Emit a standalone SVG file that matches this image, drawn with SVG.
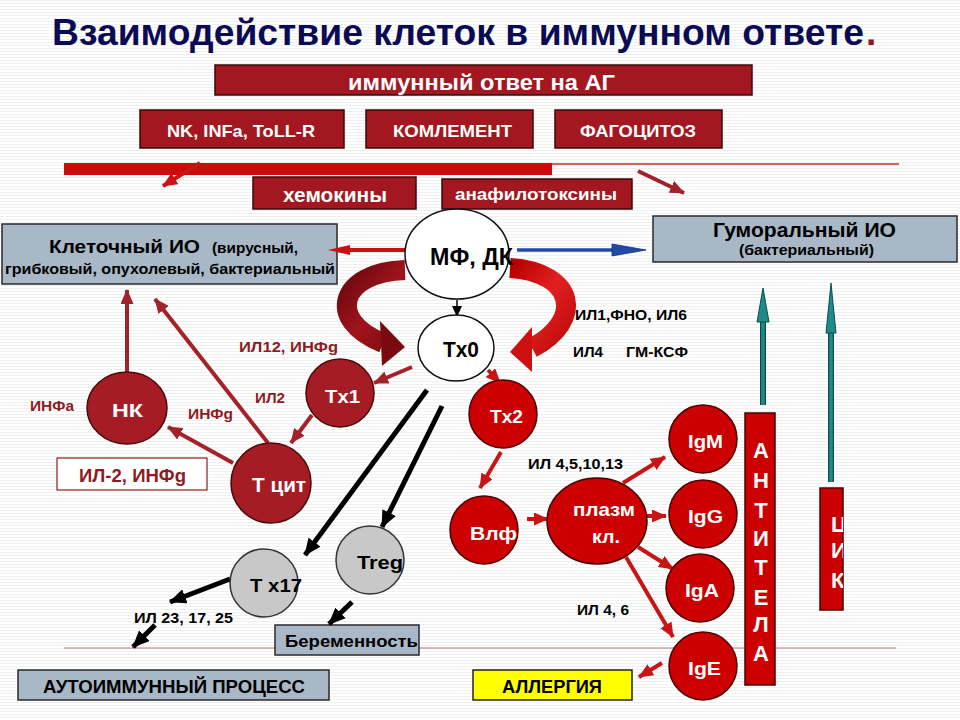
<svg xmlns="http://www.w3.org/2000/svg" width="960" height="720" viewBox="0 0 960 720">
<defs>
<style>
text{font-family:"Liberation Sans",Arial,sans-serif;font-weight:bold}
.wt{fill:#fff}
.bk{fill:#000}
.dr{fill:#8e1b22}
.boxr{fill:#a31820;stroke:#3a0808;stroke-width:1.5}
.boxg{fill:#a8b8c6;stroke:#2a2a2a;stroke-width:1.5}
.cdr{fill:#a51c24;stroke:#4a0a0a;stroke-width:1.5}
.cbr{fill:#cc0000;stroke:#4a0000;stroke-width:1.5}
.cgr{fill:#c8c8c8;stroke:#333;stroke-width:1.5}
.cwh{fill:#fff;stroke:#111;stroke-width:1.5}
.adr{stroke:#a3222a;stroke-width:4;fill:none;marker-end:url(#mDR)}
.abr{stroke:#c81414;stroke-width:4;fill:none;marker-end:url(#mBR)}
.abk{stroke:#000;stroke-width:5;fill:none;marker-end:url(#mBK)}
</style>
<pattern id="bg" width="4" height="3" patternUnits="userSpaceOnUse"><rect width="4" height="3" fill="#fff"/><rect width="4" height="1" fill="#f0f0f0"/></pattern>
<marker id="mDR" markerWidth="15" markerHeight="13" refX="14" refY="6.5" orient="auto" markerUnits="userSpaceOnUse"><path d="M0,0 L15,6.5 L0,13 z" fill="#a3222a"/></marker>
<marker id="mBR" markerWidth="15" markerHeight="13" refX="14" refY="6.5" orient="auto" markerUnits="userSpaceOnUse"><path d="M0,0 L15,6.5 L0,13 z" fill="#c81414"/></marker>
<marker id="mBK" markerWidth="17" markerHeight="15" refX="16" refY="7.5" orient="auto" markerUnits="userSpaceOnUse"><path d="M0,0 L17,7.5 L0,15 z" fill="#000"/></marker>
<marker id="mBKs" markerWidth="11" markerHeight="10" refX="10" refY="5" orient="auto" markerUnits="userSpaceOnUse"><path d="M0,0 L11,5 L0,10 z" fill="#000"/></marker>
<linearGradient id="gL" x1="0" y1="0" x2="1" y2="1"><stop offset="0" stop-color="#6a080c"/><stop offset="0.5" stop-color="#a0141c"/><stop offset="1" stop-color="#7a0a10"/></linearGradient>
<linearGradient id="gR" x1="0" y1="0" x2="1" y2="1"><stop offset="0" stop-color="#b80000"/><stop offset="0.5" stop-color="#e02020"/><stop offset="1" stop-color="#c00a0a"/></linearGradient>
<clipPath id="clipCIK"><rect x="820" y="488" width="23" height="122"/></clipPath>
</defs>
<rect width="960" height="720" fill="url(#bg)"/>

<g id="title">
<text x="52" y="45" font-size="37" fill="#0b0b55" textLength="812" lengthAdjust="spacingAndGlyphs">Взаимодействие клеток в иммунном ответе</text>
<text x="866" y="45" font-size="37" fill="#8b1a1a">.</text>
</g>

<g id="dividers">
<rect x="64" y="163" width="488" height="12" fill="#cc0a0a"/>
<line x1="552" y1="164" x2="899" y2="164" stroke="#c0302a" stroke-width="1.5"/>
<line x1="64" y1="648" x2="896" y2="648" stroke="#b07070" stroke-width="1"/>
</g>

<g id="n-immune">
<rect class="boxr" x="215" y="65" width="537" height="30"/>
<text class="wt" x="348" y="90" font-size="22" textLength="267" lengthAdjust="spacingAndGlyphs">иммунный ответ на АГ</text>
</g>
<g id="n-nk-infa">
<rect class="boxr" x="140" y="110" width="204" height="38"/>
<text class="wt" x="167" y="137" font-size="17" textLength="148" lengthAdjust="spacingAndGlyphs">NK, INFa, ToLL-R</text>
</g>
<g id="n-complement">
<rect class="boxr" x="366" y="110" width="167" height="38"/>
<text class="wt" x="393" y="137" font-size="17" textLength="119" lengthAdjust="spacingAndGlyphs">КОМЛЕМЕНТ</text>
</g>
<g id="n-phago">
<rect class="boxr" x="555" y="110" width="167" height="38"/>
<text class="wt" x="580" y="137" font-size="17" textLength="116" lengthAdjust="spacingAndGlyphs">ФАГОЦИТОЗ</text>
</g>
<g id="n-chemokines">
<rect class="boxr" x="253" y="177" width="163" height="32"/>
<text class="wt" x="283" y="202" font-size="20" textLength="104" lengthAdjust="spacingAndGlyphs">хемокины</text>
</g>
<g id="n-anaphyl">
<rect class="boxr" x="442" y="179" width="190" height="30"/>
<text class="wt" x="455" y="200" font-size="17" textLength="162" lengthAdjust="spacingAndGlyphs">анафилотоксины</text>
</g>
<g id="n-cellular">
<rect class="boxg" x="2" y="224" width="335" height="60"/>
<text class="bk" x="49" y="253" font-size="18" textLength="151" lengthAdjust="spacingAndGlyphs">Клеточный ИО</text>
<text class="bk" x="212" y="253" font-size="14" textLength="86" lengthAdjust="spacingAndGlyphs">(вирусный,</text>
<text class="bk" x="5" y="274" font-size="14.5" textLength="330" lengthAdjust="spacingAndGlyphs">грибковый, опухолевый, бактериальный</text>
</g>
<g id="n-humoral">
<rect class="boxg" x="653" y="216" width="304" height="46"/>
<text class="bk" x="713" y="237" font-size="20" textLength="183" lengthAdjust="spacingAndGlyphs">Гуморальный ИО</text>
<text class="bk" x="739" y="255" font-size="14" textLength="135" lengthAdjust="spacingAndGlyphs">(бактериальный)</text>
</g>
<g id="n-il2box">
<rect x="57" y="458" width="150" height="32" fill="#fff" stroke="#8e1b22" stroke-width="1.2"/>
<text class="dr" x="79" y="482" font-size="18" textLength="107" lengthAdjust="spacingAndGlyphs">ИЛ-2, ИНФg</text>
</g>
<g id="n-pregnancy">
<rect class="boxg" x="275" y="625" width="144" height="30"/>
<text class="bk" x="285" y="647" font-size="16.5" textLength="133" lengthAdjust="spacingAndGlyphs">Беременность</text>
</g>
<g id="n-autoimmune">
<rect class="boxg" x="18" y="670" width="311" height="30"/>
<text class="bk" x="43" y="693" font-size="17.5" textLength="262" lengthAdjust="spacingAndGlyphs">АУТОИММУННЫЙ ПРОЦЕСС</text>
</g>
<g id="n-allergy">
<rect x="473" y="670" width="159" height="30" fill="#ffff00" stroke="#222" stroke-width="1.5"/>
<text class="bk" x="502" y="693" font-size="17.5" textLength="100" lengthAdjust="spacingAndGlyphs">АЛЛЕРГИЯ</text>
</g>
<g id="n-antibodies">
<rect x="745" y="413" width="30" height="272" fill="#cc0000" stroke="#4a0000" stroke-width="1.5"/>
<g class="wt" font-size="22" text-anchor="middle">
<text x="761" y="458">А</text>
<text x="761" y="488">Н</text>
<text x="761" y="518">Т</text>
<text x="761" y="546">И</text>
<text x="761" y="575">Т</text>
<text x="761" y="605">Е</text>
<text x="761" y="632">Л</text>
<text x="761" y="661">А</text>
</g>
</g>
<g id="n-cik">
<rect x="820" y="488" width="23" height="122" fill="#cc0000" stroke="#4a0000" stroke-width="1.5"/>
<g class="wt" font-size="22" clip-path="url(#clipCIK)">
<text x="831" y="532">Ц</text>
<text x="831" y="558">И</text>
<text x="831" y="588">К</text>
</g>
</g>

<g id="connectors">
<path d="M405,270 C340,272 325,320 383,343" fill="none" stroke="url(#gL)" stroke-width="20"/>
<polygon points="380,321 405,347 382,366" fill="#7a0a10"/>
<path d="M510,268 C575,272 585,320 532,348" fill="none" stroke="url(#gR)" stroke-width="20"/>
<polygon points="532,327 510,352 532,372" fill="#d01010"/>
<line x1="200" y1="163" x2="163" y2="186" class="abr"/>
<line x1="638" y1="171" x2="684" y2="193" class="adr"/>
<line x1="405" y1="250" x2="345" y2="250" stroke="#cc1010" stroke-width="4"/>
<polygon points="328,250 350,245 350,255" fill="#cc1010"/>
<line x1="517" y1="250" x2="616" y2="250" stroke="#1f4aa8" stroke-width="3.5"/>
<polygon points="646,250 612,244 612,256" fill="#1f4aa8" stroke="#10306a" stroke-width="0.8"/>
<line x1="457" y1="300" x2="457" y2="316" stroke="#000" stroke-width="1.5" marker-end="url(#mBKs)"/>
<line x1="412" y1="367" x2="374" y2="383" class="adr"/>
<line x1="312" y1="415" x2="291" y2="443" class="adr"/>
<line x1="233" y1="463" x2="168" y2="427" class="adr"/>
<line x1="268" y1="443" x2="155" y2="299" class="adr"/>
<line x1="127" y1="372" x2="127" y2="290" class="adr"/>
<line x1="488" y1="370" x2="500" y2="383" class="abr"/>
<line x1="501" y1="452" x2="480" y2="488" class="abr"/>
<line x1="527" y1="519" x2="548" y2="519" class="abr"/>
<line x1="623" y1="483" x2="665" y2="457" class="abr"/>
<line x1="647" y1="516" x2="666" y2="516" class="abr"/>
<line x1="638" y1="547" x2="673" y2="569" class="abr"/>
<line x1="626" y1="557" x2="673" y2="637" class="abr"/>
<line x1="662" y1="663" x2="639" y2="677" class="abr"/>
<line x1="427" y1="390" x2="305" y2="555" class="abk"/>
<line x1="442" y1="406" x2="382" y2="527" class="abk"/>
<line x1="230" y1="579" x2="170" y2="602" class="abk" stroke-width="4"/>
<line x1="155" y1="625" x2="133" y2="647" class="abk" stroke-width="4"/>
<line x1="352" y1="602" x2="329" y2="624" class="abk" stroke-width="4"/>
<line x1="763" y1="405" x2="763" y2="318" stroke="#0d4d4f" stroke-width="6"/>
<line x1="763" y1="405" x2="763" y2="318" stroke="#1f8a8a" stroke-width="3.5"/>
<polygon points="763,288 769,322 757,322" fill="#1f8a8a" stroke="#0d4d4f" stroke-width="1"/>
<line x1="831" y1="482" x2="831" y2="330" stroke="#0d4d4f" stroke-width="6"/>
<line x1="831" y1="482" x2="831" y2="330" stroke="#1f8a8a" stroke-width="3.5"/>
<polygon points="831,283 836,333 826,333" fill="#1f8a8a" stroke="#0d4d4f" stroke-width="1"/>
</g>

<g id="labels">
<text class="bk" x="575" y="320" font-size="15.5" textLength="112" lengthAdjust="spacingAndGlyphs">ИЛ1,ФНО, ИЛ6</text>
<text class="bk" x="573" y="357" font-size="15.5" textLength="30" lengthAdjust="spacingAndGlyphs">ИЛ4</text>
<text class="bk" x="626" y="357" font-size="15.5" textLength="62" lengthAdjust="spacingAndGlyphs">ГМ-КСФ</text>
<text class="dr" x="239" y="352" font-size="15" textLength="99" lengthAdjust="spacingAndGlyphs">ИЛ12,  ИНФg</text>
<text class="dr" x="255" y="403" font-size="15" textLength="30" lengthAdjust="spacingAndGlyphs">ИЛ2</text>
<text class="dr" x="30" y="411" font-size="15" textLength="44" lengthAdjust="spacingAndGlyphs">ИНФа</text>
<text class="dr" x="188" y="419" font-size="15" textLength="45" lengthAdjust="spacingAndGlyphs">ИНФg</text>
<text class="bk" x="528" y="469" font-size="15.5" textLength="95" lengthAdjust="spacingAndGlyphs">ИЛ 4,5,10,13</text>
<text class="bk" x="577" y="615" font-size="15.5" textLength="52" lengthAdjust="spacingAndGlyphs">ИЛ 4, 6</text>
<text class="bk" x="134" y="623" font-size="14.5" textLength="99" lengthAdjust="spacingAndGlyphs">ИЛ 23, 17, 25</text>
</g>

<g id="n-mf">
<ellipse class="cwh" cx="457" cy="254" rx="52" ry="45"/>
<text class="bk" x="430" y="265" font-size="23" textLength="83" lengthAdjust="spacingAndGlyphs">МФ, ДК</text>
</g>
<g id="n-tx0">
<ellipse class="cwh" cx="456" cy="348" rx="38" ry="33"/>
<text class="bk" x="443" y="357" font-size="22" textLength="36" lengthAdjust="spacingAndGlyphs">Tx0</text>
</g>
<g id="n-tx1">
<circle class="cdr" cx="340" cy="393" r="34"/>
<text class="wt" x="325" y="403" font-size="19" textLength="35" lengthAdjust="spacingAndGlyphs">Tx1</text>
</g>
<g id="n-nk">
<ellipse class="cdr" cx="127" cy="408" rx="40" ry="36"/>
<text class="wt" x="112" y="417" font-size="18" textLength="31" lengthAdjust="spacingAndGlyphs">НК</text>
</g>
<g id="n-tcit">
<circle class="cdr" cx="271" cy="483" r="40"/>
<text class="wt" x="252" y="492" font-size="19.5" textLength="54" lengthAdjust="spacingAndGlyphs">Т цит</text>
</g>
<g id="n-tx17">
<circle class="cgr" cx="264" cy="583" r="34"/>
<text class="bk" x="250" y="592" font-size="19" textLength="52" lengthAdjust="spacingAndGlyphs">T x17</text>
</g>
<g id="n-treg">
<circle class="cgr" cx="370" cy="560" r="34"/>
<text class="bk" x="357" y="569" font-size="19" textLength="46" lengthAdjust="spacingAndGlyphs">Treg</text>
</g>
<g id="n-tx2">
<circle class="cbr" cx="503" cy="414" r="34"/>
<text class="wt" x="490" y="423" font-size="19" textLength="33" lengthAdjust="spacingAndGlyphs">Tx2</text>
</g>
<g id="n-vlf">
<circle class="cbr" cx="484" cy="530" r="34"/>
<text class="wt" x="470" y="540" font-size="19" textLength="47" lengthAdjust="spacingAndGlyphs">Влф</text>
</g>
<g id="n-plasma">
<ellipse class="cbr" cx="597" cy="521" rx="50" ry="43"/>
<text class="wt" x="573" y="516" font-size="19" textLength="62" lengthAdjust="spacingAndGlyphs">плазм</text>
<text class="wt" x="592" y="543" font-size="19" textLength="28" lengthAdjust="spacingAndGlyphs">кл.</text>
</g>
<g id="n-igm">
<circle class="cbr" cx="703" cy="439" r="34"/>
<text class="wt" x="688" y="448" font-size="19" textLength="35" lengthAdjust="spacingAndGlyphs">IgM</text>
</g>
<g id="n-igg">
<circle class="cbr" cx="703" cy="514" r="34"/>
<text class="wt" x="688" y="523" font-size="19" textLength="35" lengthAdjust="spacingAndGlyphs">IgG</text>
</g>
<g id="n-iga">
<circle class="cbr" cx="700" cy="588" r="34"/>
<text class="wt" x="685" y="597" font-size="19" textLength="34" lengthAdjust="spacingAndGlyphs">IgA</text>
</g>
<g id="n-ige">
<circle class="cbr" cx="703" cy="666" r="34"/>
<text class="wt" x="688" y="675" font-size="19" textLength="33" lengthAdjust="spacingAndGlyphs">IgE</text>
</g>
</svg>
